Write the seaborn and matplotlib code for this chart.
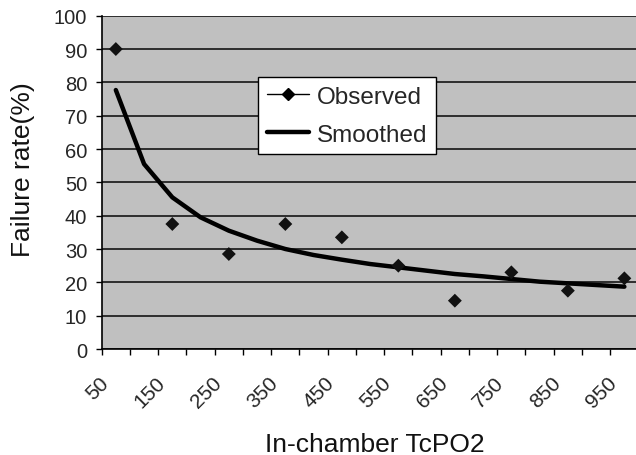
import numpy as np
import pandas as pd
import matplotlib
matplotlib.use("Agg")
import matplotlib.pyplot as plt
import matplotlib.transforms as mtransforms
from matplotlib.lines import Line2D
import seaborn as sns

# categories on the x axis (Excel-style category axis)
tcpo2 = [50, 100, 150, 200, 250, 300, 350, 400, 450, 500,
         550, 600, 650, 700, 750, 800, 850, 900, 950]
smoothed = [77.7, 55.5, 45.5, 39.5, 35.5, 32.5, 30.0, 28.2, 26.8, 25.5,
            24.5, 23.5, 22.5, 21.8, 21.0, 20.2, 19.7, 19.2, 18.7]

observed_tcpo2 = [50, 150, 250, 350, 450, 550, 650, 750, 850, 950]
observed = [90.0, 37.5, 28.5, 37.5, 33.5, 25.0, 14.5, 23.0, 17.5, 21.2]

tick_labels = ["50", "150", "250", "350", "450", "550", "650", "750", "850", "950"]

sns.set_style("white")
plt.rcParams['font.family'] = ['Liberation Sans', 'DejaVu Sans']

df_s = pd.DataFrame({"pos": [tcpo2.index(v) for v in tcpo2], "rate": smoothed})
df_o = pd.DataFrame({"pos": [tcpo2.index(v) for v in observed_tcpo2], "rate": observed})

fig = plt.figure(figsize=(6.36, 4.56), dpi=100)
ax = fig.add_axes([101.7 / 636, 1 - 350 / 456, 536.8 / 636, 333.3 / 456])
ax.set_facecolor("#c0c0c0")

sns.lineplot(data=df_s, x="pos", y="rate", color="black", lw=3.2, ax=ax, legend=False)
sns.scatterplot(data=df_o, x="pos", y="rate", marker="D", s=50, color="#111111",
                edgecolor="none", ax=ax, legend=False, zorder=3)

ax.set_xlim(-0.5, len(tcpo2) - 0.5)
ax.set_ylim(0, 100)
ax.set_yticks(np.arange(0, 101, 10))
ax.tick_params(axis="y", labelsize=14.5, length=4.5, width=1, pad=6, color="black", left=True)

# tick marks between categories, labels on every other category
ax.set_xticks(np.arange(-0.5, len(tcpo2), 1))
ax.set_xticklabels([])
ax.set_xticks(df_o["pos"], minor=True)
ax.set_xticklabels(tick_labels, minor=True, rotation=45, ha="right", rotation_mode="anchor")
ax.tick_params(axis="x", which="major", length=4, width=1, color="black", bottom=True)
ax.tick_params(axis="x", which="minor", length=0, pad=17, labelsize=15)
offset = mtransforms.ScaledTranslation(-17 / 100, 0, fig.dpi_scale_trans)
for lab in ax.get_xticklabels(minor=True):
    lab.set_transform(lab.get_transform() + offset)

ax.yaxis.grid(True, color="#222222", lw=1.3)
ax.xaxis.grid(False)
ax.set_axisbelow(True)
for side in ["top", "right"]:
    ax.spines[side].set_visible(False)
for side in ["left", "bottom"]:
    ax.spines[side].set_color("black")
    ax.spines[side].set_linewidth(1.2)

ax.set_xlabel("In-chamber TcPO2", fontsize=19, color="#111111")
ax.xaxis.label.set_va("baseline")
ax.xaxis.set_label_coords(0.509, -0.305)
ax.set_ylabel("Failure rate(%)", fontsize=19, color="#111111")
ax.yaxis.label.set_va("center")
ax.yaxis.set_label_coords((23 - 101.7) / 536.8, 0.54)

handles = [Line2D([], [], color="black", lw=1, marker="D", ms=6.5),
           Line2D([], [], color="black", lw=3.2)]
leg = ax.legend(handles, ["Observed", "Smoothed"], loc="upper left",
                bbox_to_anchor=(0.2917, 0.815), frameon=True, fancybox=False,
                edgecolor="black", facecolor="white", framealpha=1, fontsize=17.5,
                handlelength=1.75, handletextpad=0.3, borderpad=0.35,
                labelspacing=0.65, borderaxespad=0)
leg.get_frame().set_linewidth(1.0)

fig.savefig("out.png", dpi=100)
